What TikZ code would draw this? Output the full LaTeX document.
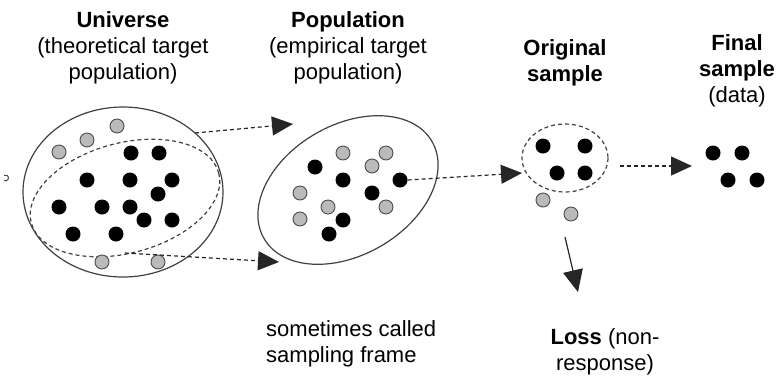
\documentclass[tikz,border=0pt]{standalone}
\usepackage{fontspec}
\setmainfont{Liberation Sans}
\usetikzlibrary{arrows.meta}
\begin{document}
\begin{tikzpicture}[x=1pt,y=-1pt,
 bdot/.style={circle,fill=black,minimum size=15pt,inner sep=0pt},
 gdot/.style={circle,fill=black!27,draw=black!70,line width=0.9pt,minimum size=14pt,inner sep=0pt},
 lbl/.style={font=\fontsize{22}{26}\selectfont,align=center,anchor=base,inner sep=0pt},
 outline/.style={draw=black!75,line width=1.2pt},
 dline/.style={draw=black!75,line width=1.2pt,dash pattern=on 4pt off 3pt},
 darr/.style={black!85,line width=1.2pt,dash pattern=on 4pt off 3pt,-{Triangle[length=21pt,width=19pt]}},
 sarr/.style={black!85,line width=1.2pt,-{Triangle[length=22pt,width=20pt]}},
]
\useasboundingbox (0,0) rectangle (781,376);

% tiny mark at left
\draw[black!70,line width=1pt] (4,180.5) arc[start angle=120,end angle=-120,radius=3];

% labels (base anchor = baseline of the last line)
\node[lbl] (universe) at (123,79) {\textbf{Universe}\\(theoretical target\\population)};
\node[lbl] (population) at (348,79) {\textbf{Population}\\(empirical target\\population)};
\node[lbl] (original) at (565,81) {\textbf{Original}\\\textbf{sample}};
\node[lbl] (final) at (737,102) {\textbf{Final}\\\textbf{sample}\\(data)};
\node[lbl,anchor=base west,align=left] (frame) at (266,362) {sometimes called\\sampling frame};
\node[lbl] (loss) at (605,370) {\textbf{Loss} (non-\\response)};

% universe
\draw[outline] (123,192) ellipse [x radius=100, y radius=85];
\draw[dline,rotate around={15:(125,198)}] (125,198) ellipse [x radius=97, y radius=55];
\foreach \p [count=\i] in {(117,126),(87,140),(59,152),(102,262),(158,262)}
  \node[gdot] (ug\i) at \p {};
\foreach \p [count=\i] in {(131,153),(159,153),(87,180),(130,180),(172,180),(158,194),(59,207),(102,207),(130,207),(144,220),(172,220),(73,234),(116,234)}
  \node[bdot] (ub\i) at \p {};

% population
\draw[outline,rotate around={30:(348,190)}] (348,190) ellipse [x radius=97, y radius=65];
\foreach \p [count=\i] in {(343,153),(386,153),(372,166),(300,193),(328,207),(386,207),(300,219)}
  \node[gdot] (pg\i) at \p {};
\foreach \p [count=\i] in {(315,167),(343,180),(400,180),(372,193),(343,220),(329,234)}
  \node[bdot] (pb\i) at \p {};

% original sample
\draw[dline] (565,158) ellipse [x radius=43, y radius=34];
\foreach \p [count=\i] in {(543,146),(585,146),(557,173),(585,173)}
  \node[bdot] (ob\i) at \p {};
\node[gdot] (og1) at (543,200) {};
\node[gdot] (og2) at (571,214) {};

% final sample
\foreach \p [count=\i] in {(713,153),(742,153),(728,180),(757,180)}
  \node[bdot] (fb\i) at \p {};

% connectors
\coordinate (a1s) at (195,133);
\coordinate (a1e) at (293,124);
\coordinate (a2s) at (125,253);
\coordinate (a2e) at (279,262);
\coordinate (a3e) at (522,173);
\coordinate (a4s) at (620,166);
\coordinate (a4e) at (692,166);
\coordinate (a5s) at (565,237);
\coordinate (a5e) at (578,292);
\draw[darr] (a1s) -- (a1e);
\draw[darr] (a2s) -- (a2e);
\draw[darr] (pb3.east) -- (a3e);
\draw[darr] (a4s) -- (a4e);
\draw[sarr] (a5s) -- (a5e);
\end{tikzpicture}
\end{document}
